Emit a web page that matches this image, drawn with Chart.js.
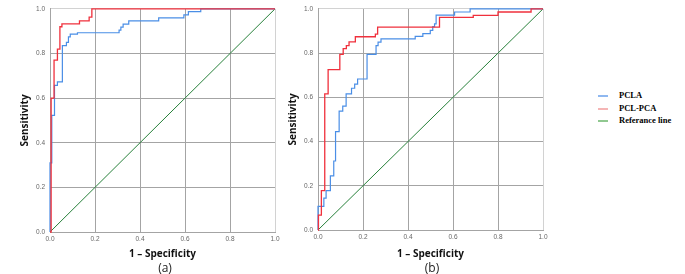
<!DOCTYPE html>
<html>
<head>
<meta charset="utf-8">
<script src="https://cdn.jsdelivr.net/npm/chart.js@4"></script>
<style>
  body { margin: 0; background: #fff; }
  #wrap { position: relative; width: 685px; height: 274px; overflow: hidden; }
  canvas { position: absolute; top: 0; }
  .cap { position: absolute; font: 12px "Open Sans"; color: #222; transform: translate(-50%, -50%); }
  .leg { position: absolute; left: 598px; font: bold 8.5px "Liberation Serif"; color: #000; }
  .leg span { display: inline-block; width: 10px; height: 1.5px; vertical-align: middle; margin-right: 11px; }
</style>
</head>
<body>
<div id="wrap">
  <canvas id="ChartA" width="285" height="274" style="left:0;width:285px;height:274px"></canvas>
  <canvas id="ChartB" width="285" height="274" style="left:268px;width:285px;height:274px"></canvas>
  <div class="cap" style="left:165px;top:267px">(a)</div>
  <div class="cap" style="left:432px;top:267px">(b)</div>
  <div class="leg" style="top:90px"><span style="background:#8fb8f0"></span>PCLA</div>
  <div class="leg" style="top:103px"><span style="background:#f5b5b5"></span>PCL-PCA</div>
  <div class="leg" style="top:115px"><span style="background:#90c890"></span>Referance line</div>
</div>
<script>
// ---------------- data ------------------------
const tickValues = [0, 0.2, 0.4, 0.6, 0.8, 1.0];
const tickLabels = ['0.0', '0.2', '0.4', '0.6', '0.8', '1.0'];

// (a) - top of every vertical step: 1 - specificity / sensitivity
const aPclaFpr = [0, 0, 0.008, 0.02, 0.033, 0.055, 0.073, 0.082, 0.09, 0.122, 0.307, 0.315, 0.325, 0.35, 0.483, 0.595, 0.615, 0.67, 1];
const aPclaTpr = [0, 0.31, 0.523, 0.657, 0.673, 0.835, 0.85, 0.875, 0.887, 0.893, 0.905, 0.918, 0.932, 0.946, 0.96, 0.973, 0.988, 1, 1];
const aPcaFpr = [0, 0.005, 0.018, 0.033, 0.044, 0.053, 0.131, 0.174, 0.186, 1];
const aPcaTpr = [0, 0.6, 0.77, 0.82, 0.92, 0.933, 0.946, 0.963, 1, 1];

// (b)
const bPclaFpr = [0, 0, 0.026, 0.036, 0.055, 0.07, 0.078, 0.094, 0.11, 0.125, 0.149, 0.163, 0.176, 0.218, 0.258, 0.267, 0.28, 0.432, 0.466, 0.499, 0.51, 0.518, 0.525, 0.607, 0.676, 1];
const bPclaTpr = [0, 0.107, 0.144, 0.178, 0.245, 0.312, 0.445, 0.538, 0.56, 0.616, 0.641, 0.66, 0.683, 0.794, 0.834, 0.85, 0.864, 0.876, 0.888, 0.903, 0.92, 0.932, 0.972, 0.986, 1, 1];
const bPcaFpr = [0, 0.002, 0.015, 0.03, 0.045, 0.097, 0.112, 0.126, 0.138, 0.166, 0.255, 0.265, 0.54, 0.69, 0.8, 0.947, 1];
const bPcaTpr = [0, 0.067, 0.178, 0.616, 0.725, 0.794, 0.82, 0.834, 0.851, 0.874, 0.886, 0.918, 0.962, 0.971, 0.986, 1, 1];

const refFpr = [0, 1];
const refTpr = [0, 1];

const toPoints = (xs, ys) => xs.map((x, i) => ({ x: x, y: ys[i] }));

// ---------------- chart ------------------------
function rocChart(id, pclaFpr, pclaTpr, pcaFpr, pcaTpr, padTop, axisHeight) {
    const gridColor = ctx => ctx.tick && ctx.tick.value === 1 ? '#d2d2d2' : '#a4a4a4';
    const tickFont = { family: 'Liberation Sans', size: 6.5 };
    const titleFont = { family: 'Open Sans', size: 10, weight: 'bold' };

    new Chart(document.getElementById(id), {
        type: 'line',
        data: {
            datasets: [{
                label: 'PCL-PCA',
                data: toPoints(pcaFpr, pcaTpr),
                borderColor: '#f0303c',
                borderWidth: 1.3,
                stepped: true,
                pointRadius: 0,
                clip: 3,
                order: 0
            }, {
                label: 'PCLA',
                data: toPoints(pclaFpr, pclaTpr),
                borderColor: '#4a8ee6',
                borderWidth: 1.2,
                stepped: true,
                pointRadius: 0,
                clip: 3,
                order: 1
            }, {
                label: 'Referance line',
                data: toPoints(refFpr, refTpr),
                borderColor: '#27803a',
                borderWidth: 1,
                pointRadius: 0,
                order: 2
            }]
        },
        options: {
            responsive: false,
            animation: false,
            layout: { padding: { top: padTop, right: 10, left: 0, bottom: 0 } },
            scales: {
                x: {
                    type: 'linear',
                    min: 0,
                    max: 1,
                    afterBuildTicks: s => { s.ticks = tickValues.map(v => ({ value: v })); },
                    afterFit: s => { s.height = axisHeight; },
                    ticks: {
                        color: '#666',
                        font: tickFont,
                        padding: 3,
                        maxRotation: 0,
                        callback: (v, i) => tickLabels[i]
                    },
                    grid: { color: gridColor, drawTicks: false },
                    border: { color: '#a4a4a4' },
                    title: {
                        display: true,
                        text: '1 \u2013 Specificity',
                        color: '#111',
                        font: titleFont,
                        padding: { top: 0, bottom: 14 }
                    }
                },
                y: {
                    type: 'linear',
                    min: 0,
                    max: 1,
                    afterBuildTicks: s => { s.ticks = tickValues.map(v => ({ value: v })); },
                    afterFit: s => { s.width = 50; },
                    ticks: {
                        color: '#666',
                        font: tickFont,
                        padding: 5,
                        callback: (v, i) => tickLabels[i]
                    },
                    grid: { color: gridColor, drawTicks: false },
                    border: { color: '#a4a4a4' },
                    title: {
                        display: true,
                        text: 'Sensitivity',
                        color: '#111',
                        font: titleFont,
                        padding: { top: 19, bottom: 0 }
                    }
                }
            },
            plugins: {
                legend: { display: false },
                tooltip: { enabled: false }
            }
        }
    });
}

rocChart('ChartA', aPclaFpr, aPclaTpr, aPcaFpr, aPcaTpr, 7, 42);
rocChart('ChartB', bPclaFpr, bPclaTpr, bPcaFpr, bPcaTpr, 6, 44);
</script>
</body>
</html>
